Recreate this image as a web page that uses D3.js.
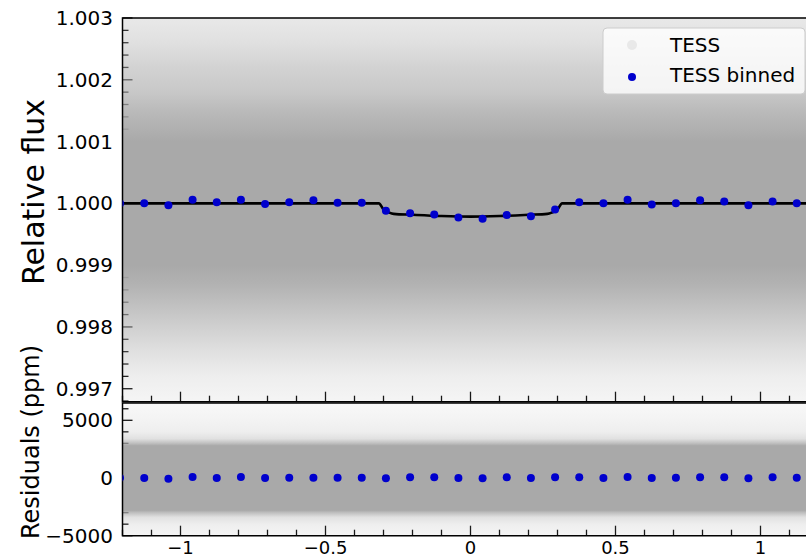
<!DOCTYPE html>
<html><head><meta charset="utf-8">
<script src="https://cdn.jsdelivr.net/npm/d3@7"></script>
<style>body{margin:0;background:#fff}svg{display:block}text{font-family:"DejaVu Sans",sans-serif;fill:#000}</style>
</head><body><svg id="c" width="806" height="559"></svg>
<script>
// ---- data ----
const binTime = [-1.2083,-1.125,-1.0417,-0.9583,-0.875,-0.7917,-0.7083,-0.625,-0.5417,-0.4583,-0.375,-0.2917,-0.2083,-0.125,-0.0417,0.0417,0.125,0.2083,0.2917,0.375,0.4583,0.5417,0.625,0.7083,0.7917,0.875,0.9583,1.0417,1.125,1.2083];
const binFlux = [1.00000,1.00000,0.99997,1.00006,1.00002,1.00006,0.99999,1.00002,1.00005,1.00001,1.00001,0.99988,0.99984,0.99982,0.99977,0.99975,0.99981,0.99979,0.99990,1.00002,1.00000,1.00006,0.99998,1.00000,1.00005,1.00003,0.99997,1.00003,1.00000,1.00000];
const binResid = [0,0,-58,87,0,87,0,29,29,29,29,-29,58,58,0,-29,58,0,58,58,0,87,0,29,58,58,-29,58,29,0];
const modelTime = [-1.2,-0.316,-0.300,-0.280,-0.265,-0.2,-0.1,0,0.1,0.2,0.265,0.280,0.300,0.316,1.2];
const modelFlux = [1.0,1.0,0.99990,0.99985,0.99983,0.999815,0.999795,0.999785,0.999795,0.999815,0.99983,0.99985,0.99990,1.0,1.0];
// density of the raw TESS cloud (deviation, ppm) -> opacity of the grey points
const cloudDev = [3300,3000,2600,2200,1800,1500,1100,1000,-1000,-1300,-1600,-2000,-2400,-2800,-3200,-3500];
const cloudOpacity = [0.2,0.26,0.36,0.52,0.64,0.8,0.96,1,1,0.9,0.75,0.55,0.36,0.2,0.12,0.08];
const residDev = [7000,6000,5000,4000,3400,3000,2800,-2800,-3000,-3400,-4000,-5000,-6000];
const residOpacity = [0.08,0.1,0.14,0.2,0.35,0.75,1,1,0.75,0.35,0.2,0.12,0.08];
const fluxTicks = [0.997,0.998,0.999,1.000,1.001,1.002,1.003];
const fluxTickLabels = ["0.997","0.998","0.999","1.000","1.001","1.002","1.003"];
const residTicks = [-5000,0,5000];
const residTickLabels = ["\u22125000","0","5000"];
const timeTicks = [-1,-0.5,0,0.5,1];
const timeTickLabels = ["\u22121","\u22120.5","0","0.5","1"];
const legendLabels = ["TESS","TESS binned"];

// ---- layout ----
const svg = d3.select("#c");
const X0 = 122.5, X1 = 818.5;
const topY0 = 18, topY1 = 401.7, botY0 = 403, botY1 = 535.7;
const grey = "#a9a9a9", blue = "#0000cd";
const x = d3.scaleLinear().domain([-1.2,1.2]).range([X0,X1]);
const yF = d3.scaleLinear().domain([0.99679,1.003]).range([topY1,topY0]);
const yR = d3.scaleLinear().domain([-5000,6500]).range([botY1,botY0]);

const defs = svg.append("defs");
[["cpTop",topY0,topY1],["cpBot",botY0,botY1]].forEach(([id,a,b])=>{
  defs.append("clipPath").attr("id",id).append("rect").attr("x",X0).attr("y",a).attr("width",X1-X0).attr("height",b-a);
});

function ticksIn(g, scale, vals, len, orient){
  vals.forEach(v=>{
    if(orient==="left") g.append("line").attr("x1",X0).attr("x2",X0+len).attr("y1",scale(v)).attr("y2",scale(v));
    else g.append("line").attr("y1",orient).attr("y2",orient-len).attr("x1",scale(v)).attr("x2",scale(v));
  });
  g.attr("stroke","#000").attr("stroke-width",1.3);
}
// ticks (under the cloud)
const tk = svg.append("g");
ticksIn(tk.append("g"), yF, d3.range(0.9968,1.00301,0.0002).filter(v=>!fluxTicks.some(t=>Math.abs(t-v)<1e-7)), 6, "left");
ticksIn(tk.append("g"), yF, fluxTicks, 10, "left");
ticksIn(tk.append("g"), yR, d3.range(-5000,6001,1000).filter(v=>v%5000!==0), 6, "left");
ticksIn(tk.append("g"), yR, residTicks, 10, "left");
const minorT = d3.range(-12,13).map(i=>i/10).filter(v=>Math.abs(v*2-Math.round(v*2))>1e-6);
[topY1, botY1].forEach(yy=>{
  ticksIn(tk.append("g"), x, minorT, 6, yy);
  ticksIn(tk.append("g"), x, timeTicks, 10, yy);
});

// cloud of raw points as density gradients
function cloud(id, dev, op, yScale, base, y0, y1, clip){
  const g = defs.append("linearGradient").attr("id",id).attr("gradientUnits","userSpaceOnUse")
    .attr("x1",0).attr("x2",0).attr("y1",y0).attr("y2",y1);
  dev.forEach((d,i)=>{
    const yy = yScale(base(d));
    g.append("stop").attr("offset",Math.max(0,Math.min(1,(yy-y0)/(y1-y0)))).attr("stop-color",grey).attr("stop-opacity",op[i]);
  });
  svg.append("rect").attr("clip-path",`url(#${clip})`).attr("x",X0).attr("y",y0).attr("width",X1-X0).attr("height",y1-y0)
    .attr("fill",`url(#${id})`);
}
cloud("gTop", cloudDev, cloudOpacity, yF, d=>1+d*1e-6, topY0, topY1, "cpTop");
cloud("gBot", residDev, residOpacity, yR, d=>d, botY0, botY1, "cpBot");

// spines
const sp = svg.append("g").attr("stroke","#000").attr("stroke-width",1.5).attr("fill","none");
sp.append("path").attr("d",`M${X1},${topY0}H${X0}V${topY1}H${X1}`);
sp.append("path").attr("d",`M${X1},${botY0}H${X0}V${botY1}H${X1}`);

// model line
const modelPts = modelTime.map((t,i)=>[t,modelFlux[i]]);
svg.append("path").attr("clip-path","url(#cpTop)").datum(modelPts)
  .attr("d",d3.line().x(d=>x(d[0])).y(d=>yF(d[1])).curve(d3.curveMonotoneX))
  .attr("fill","none").attr("stroke","#000").attr("stroke-width",2.6);

// binned points
svg.append("g").attr("clip-path","url(#cpTop)").selectAll("circle").data(binTime).join("circle")
  .attr("cx",d=>x(d)).attr("cy",(d,i)=>yF(binFlux[i])).attr("r",4).attr("fill",blue);
svg.append("g").attr("clip-path","url(#cpBot)").selectAll("circle").data(binTime).join("circle")
  .attr("cx",d=>x(d)).attr("cy",(d,i)=>yR(binResid[i])).attr("r",4).attr("fill",blue);

// tick labels
const fs = 20;
fluxTicks.forEach((v,i)=>svg.append("text").attr("x",113).attr("y",yF(v)).attr("dy","0.35em").attr("text-anchor","end").attr("font-size",fs).text(fluxTickLabels[i]));
residTicks.forEach((v,i)=>svg.append("text").attr("x",113).attr("y",yR(v)).attr("dy","0.35em").attr("text-anchor","end").attr("font-size",fs).text(residTickLabels[i]));
timeTicks.forEach((v,i)=>svg.append("text").attr("x",x(v)).attr("y",554).attr("text-anchor","middle").attr("font-size",18).text(timeTickLabels[i]));

// axis labels
svg.append("text").attr("transform","translate(44,192) rotate(-90)").attr("text-anchor","middle").attr("font-size",30).text("Relative flux");
svg.append("text").attr("transform","translate(39,442) rotate(-90)").attr("text-anchor","middle").attr("font-size",24).text("Residuals (ppm)");

// legend
const lg = svg.append("g");
lg.append("rect").attr("x",603).attr("y",28).attr("width",202).attr("height",66).attr("rx",4)
  .attr("fill","#fff").attr("fill-opacity",0.8).attr("stroke","#cccccc").attr("stroke-width",1);
lg.append("circle").attr("cx",632).attr("cy",45).attr("r",5).attr("fill",grey).attr("fill-opacity",0.2);
lg.append("circle").attr("cx",632).attr("cy",77).attr("r",4).attr("fill",blue);
lg.append("text").attr("x",670).attr("y",52).attr("font-size",20).text(legendLabels[0]);
lg.append("text").attr("x",670).attr("y",82).attr("font-size",20).text(legendLabels[1]);
</script></body></html>
